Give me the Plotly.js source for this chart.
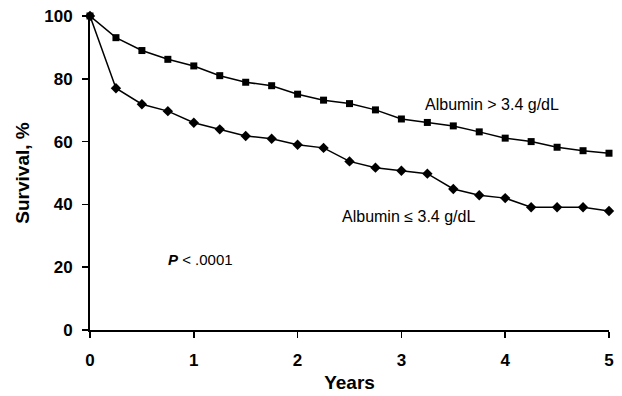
<!DOCTYPE html>
<html><head><meta charset="utf-8">
<script src="https://cdn.plot.ly/plotly-3.0.1.min.js"></script>
<style>html,body{margin:0;padding:0;background:#fff}#chart{width:622px;height:396px}</style>
</head><body><div id="chart"></div>
<script>
const years = [0,0.25,0.5,0.75,1,1.25,1.5,1.75,2,2.25,2.5,2.75,3,3.25,3.5,3.75,4,4.25,4.5,4.75,5];
const survivalHigh = [100,93.1,89,86.2,84.1,81,78.9,77.8,75.1,73.2,72.1,70.1,67.2,66.1,65,63.1,61.1,60,58.2,57.1,56.3];
const survivalLow = [100,77,71.9,69.7,66,63.9,61.8,60.9,59,58,53.7,51.7,50.7,49.8,44.9,42.9,42,39.1,39.1,39.1,37.9];
const labelHigh = "Albumin > 3.4 g/dL";
const labelLow = "Albumin ≤ 3.4 g/dL";
const pText = "<b><i>P</i></b> < .0001";
const xTicks = [0,1,2,3,4,5];
const yTicks = [0,20,40,60,80,100];

const data = [
  {x: years, y: survivalHigh, mode: 'lines+markers', name: labelHigh, cliponaxis: false,
   line: {color: '#000', width: 1.5}, marker: {symbol: 'square', size: 7, color: '#000'}},
  {x: years, y: survivalLow, mode: 'lines+markers', name: labelLow, cliponaxis: false,
   line: {color: '#000', width: 1.5}, marker: {symbol: 'diamond', size: 8, color: '#000'}}
];
const fam = 'Liberation Sans, Arial, sans-serif';
const layout = {
  width: 622, height: 396,
  margin: {l: 90, r: 13, t: 16, b: 66},
  paper_bgcolor: '#fff', plot_bgcolor: '#fff',
  showlegend: false,
  font: {family: fam, color: '#000'},
  xaxis: {range: [0,5], tickvals: xTicks, ticktext: xTicks.map(v => '<b>' + v + '</b>'),
    ticks: 'outside', ticklen: 6, tickwidth: 1.5, tickcolor: '#000', ticklabelstandoff: 8,
    showline: true, linecolor: '#000', linewidth: 2, showgrid: false, zeroline: false,
    tickfont: {size: 17, family: fam},
    title: {text: '<b>Years</b>', font: {size: 19}, standoff: 6}},
  yaxis: {range: [0,100], tickvals: yTicks, ticktext: yTicks.map(v => '<b>' + v + '</b>'),
    ticks: 'outside', ticklen: 6, tickwidth: 1.5, tickcolor: '#000', ticklabelstandoff: 6,
    showline: true, linecolor: '#000', linewidth: 2, showgrid: false, zeroline: false,
    tickfont: {size: 17, family: fam},
    title: {text: '<b>Survival, %</b>', font: {size: 19}, standoff: 10}},
  annotations: [
    {x: 3.87, y: 71.7, xref: 'x', yref: 'y', text: labelHigh, showarrow: false, font: {size: 16}},
    {x: 3.07, y: 36.3, xref: 'x', yref: 'y', text: labelLow, showarrow: false, font: {size: 16}},
    {x: 1.06, y: 22.5, xref: 'x', yref: 'y', text: pText, showarrow: false, font: {size: 15}}
  ]
};
Plotly.newPlot('chart', data, layout, {displayModeBar: false, staticPlot: true});
</script></body></html>
